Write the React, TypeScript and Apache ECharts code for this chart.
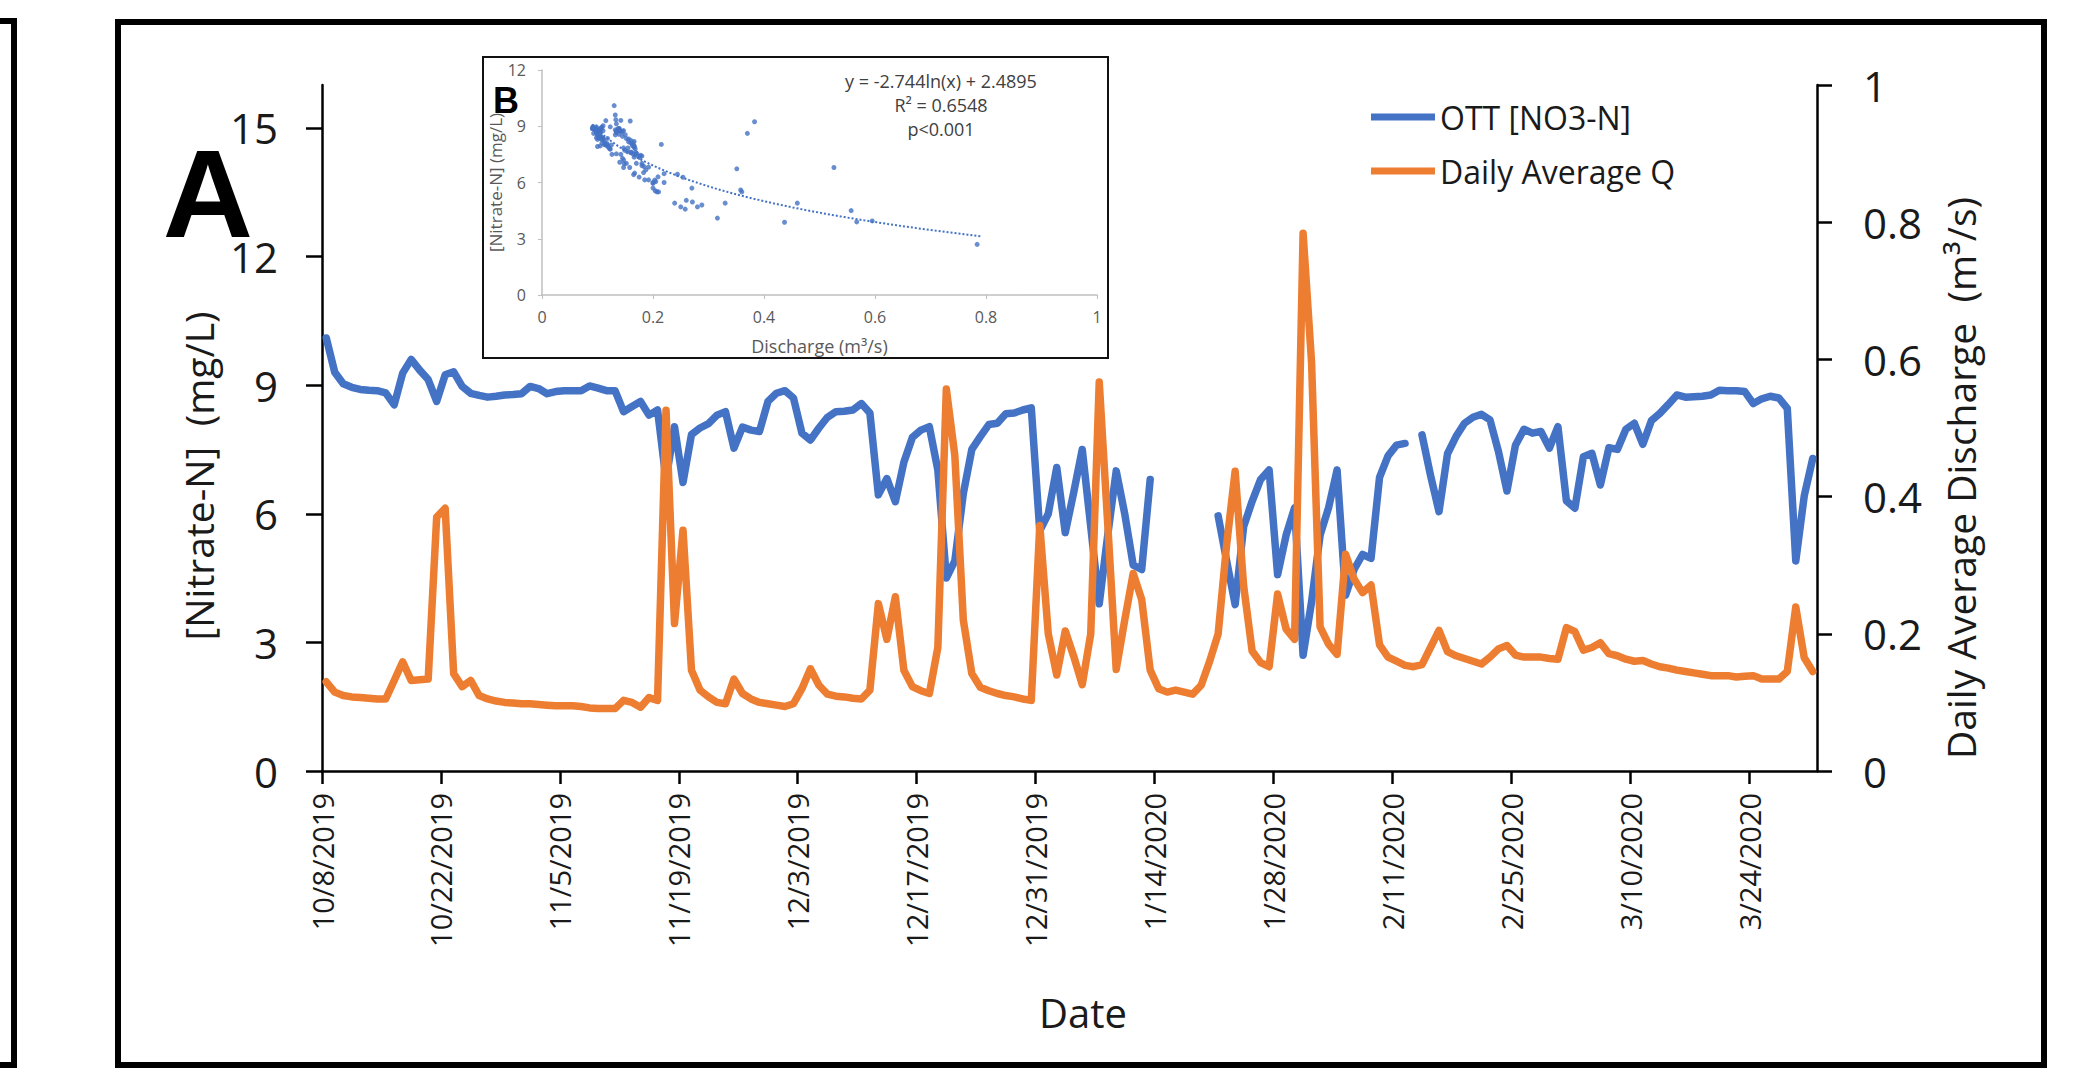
import React, { useEffect, useRef } from "react";
import * as echarts from "echarts";

// Daily values, one per day starting 10/8/2019 (176 days, through 3/31/2020)
const nitrate: (number | null)[] = [
  10.1, 9.3, 9.03, 8.95, 8.9, 8.88, 8.87, 8.82, 8.54, 9.28,
  9.6, 9.35, 9.13, 8.62, 9.24, 9.31, 8.97, 8.81, 8.76, 8.72,
  8.74, 8.77, 8.78, 8.8, 8.97, 8.92, 8.8, 8.85, 8.87, 8.87,
  8.87, 8.98, 8.93, 8.87, 8.87, 8.38, 8.5, 8.62, 8.3, 8.42,
  6.8, 8.03, 6.73, 7.85, 8.0, 8.1, 8.3, 8.38, 7.53, 8.02,
  7.95, 7.92, 8.62, 8.81, 8.87, 8.7, 7.88, 7.72, 8.0, 8.25,
  8.38, 8.39, 8.42, 8.57, 8.35, 6.44, 6.82, 6.28, 7.2, 7.78,
  7.95, 8.03, 7.02, 4.5, 4.9, 6.47, 7.5, 7.8, 8.08, 8.11,
  8.33, 8.35, 8.42, 8.47, 5.6, 6.0, 7.08, 5.56, 6.5, 7.5,
  5.7, 3.9, 5.5, 7.0, 6.0, 4.8, 4.7, 6.8, null, null,
  null, null, null, null, null, 5.95, 4.9, 3.88, 5.7, 6.29,
  6.8, 7.02, 4.58, 5.5, 6.14, 2.7, 3.95, 5.5, 6.14, 7.02,
  4.1, 4.7, 5.05, 4.96, 6.85, 7.35, 7.6, 7.64, null, 7.84,
  6.9, 6.05, 7.4, 7.8, 8.11, 8.25, 8.32, 8.19, 7.45, 6.53,
  7.6, 7.97, 7.88, 7.92, 7.53, 8.03, 6.3, 6.13, 7.33, 7.41,
  6.67, 7.54, 7.5, 7.97, 8.11, 7.62, 8.17, 8.34, 8.55, 8.77,
  8.72, 8.73, 8.74, 8.77, 8.88, 8.87, 8.87, 8.85, 8.57, 8.68,
  8.74, 8.7, 8.46, 4.9, 6.42, 7.29,
];

const discharge: number[] = [
  0.13, 0.115, 0.11, 0.108, 0.107, 0.106, 0.105, 0.105, 0.132, 0.159,
  0.132, 0.133, 0.134, 0.37, 0.383, 0.142, 0.123, 0.132, 0.11, 0.105,
  0.102, 0.1, 0.099, 0.098, 0.098, 0.097, 0.096, 0.095, 0.095, 0.095,
  0.094, 0.092, 0.091, 0.091, 0.091, 0.103, 0.1, 0.093, 0.107, 0.103,
  0.526, 0.215, 0.351, 0.147, 0.118, 0.108, 0.1, 0.098, 0.134, 0.113,
  0.105, 0.1, 0.098, 0.096, 0.094, 0.098, 0.12, 0.149, 0.125, 0.112,
  0.109, 0.108, 0.106, 0.105, 0.118, 0.244, 0.192, 0.254, 0.147, 0.123,
  0.117, 0.113, 0.18, 0.557, 0.46, 0.22, 0.142, 0.122, 0.117, 0.113,
  0.11, 0.108, 0.105, 0.103, 0.358, 0.2, 0.14, 0.204, 0.167, 0.126,
  0.2, 0.567, 0.36, 0.148, 0.22, 0.288, 0.25, 0.147, 0.12, 0.115,
  0.118, 0.115, 0.112, 0.125, 0.16, 0.2, 0.33, 0.437, 0.27, 0.175,
  0.158, 0.152, 0.258, 0.207, 0.192, 0.784, 0.595, 0.21, 0.185, 0.17,
  0.316, 0.28, 0.26, 0.271, 0.184, 0.166, 0.16, 0.154, 0.152, 0.155,
  0.18, 0.205, 0.174, 0.168, 0.164, 0.16, 0.156, 0.166, 0.178, 0.183,
  0.169, 0.166, 0.166, 0.166, 0.164, 0.163, 0.209, 0.203, 0.176, 0.18,
  0.187, 0.171, 0.168, 0.163, 0.16, 0.161, 0.156, 0.152, 0.15, 0.147,
  0.145, 0.143, 0.141, 0.139, 0.139, 0.139, 0.137, 0.138, 0.139, 0.134,
  0.134, 0.134, 0.145, 0.239, 0.165, 0.145,
];

const startDate = [2019, 9, 8]; // 10/8/2019 (month index 9)
const dateTickDays = [0, 14, 28, 42, 56, 70, 84, 98, 112, 126, 140, 154, 168];
const nitrateTicks = [0, 3, 6, 9, 12, 15];

// Log trendline reported in the inset: y = a ln(x) + b
const fitA = -2.744;
const fitB = 2.4895;
const fitXRange = [0.09, 0.79];
const fitText = ["y = -2.744ln(x) + 2.4895", "R\u00b2 = 0.6548", "p<0.001"];

const FONT = "'Open Sans', 'Liberation Sans', sans-serif";
const BLUE = "#4472C4";
const ORANGE = "#ED7D31";

function dateLabel(d: number): string {
  const t = new Date(startDate[0], startDate[1], startDate[2] + d);
  return `${t.getMonth() + 1}/${t.getDate()}/${t.getFullYear()}`;
}

export default function App() {
  const ref = useRef<HTMLDivElement>(null);

  useEffect(() => {
    if (!ref.current) return;
    const chart = echarts.init(ref.current, null, { renderer: "svg" });

    const nLine = nitrate.map((v, i) => [i + 0.5, v == null ? "-" : v]);
    const qLine = discharge.map((v, i) => [i + 0.5, v]);
    const scatter: number[][] = [];
    nitrate.forEach((v, i) => {
      if (v != null) scatter.push([discharge[i], v]);
    });
    const fit: number[][] = [];
    const steps = 60;
    for (let k = 0; k <= steps; k++) {
      const x = fitXRange[0] + ((fitXRange[1] - fitXRange[0]) * k) / steps;
      fit.push([x, fitA * Math.log(x) + fitB]);
    }

    const option: any = {
      animation: false,
      backgroundColor: "#ffffff",
      textStyle: { fontFamily: FONT },
      grid: [
        { left: 322, top: 85, width: 1495, height: 686 },
        { left: 542, top: 70, width: 555, height: 225 },
      ],
      legend: {
        data: ["OTT [NO3-N]", "Daily Average Q"],
        orient: "vertical",
        left: 1366,
        top: 96,
        icon: "rect",
        itemWidth: 64,
        itemHeight: 7,
        itemGap: 22,
        textStyle: { fontSize: 32, color: "#1a1a1a", fontFamily: FONT },
      },
      xAxis: [
        {
          gridIndex: 0,
          type: "value",
          min: 0,
          max: 176,
          interval: 14,
          axisLine: { show: true, onZero: false, lineStyle: { color: "#000", width: 2.5 } },
          axisTick: { show: true, length: 13, customValues: dateTickDays, lineStyle: { color: "#000", width: 2.5 } },
          axisLabel: {
            rotate: 90,
            margin: 22,
            fontSize: 29,
            color: "#1a1a1a",
            customValues: dateTickDays,
            formatter: (v: number) => dateLabel(v),
          },
          splitLine: { show: false },
        },
        {
          gridIndex: 1,
          type: "value",
          min: 0,
          max: 1,
          interval: 0.2,
          name: "Discharge (m\u00b3/s)",
          nameLocation: "middle",
          nameGap: 42,
          nameTextStyle: { fontSize: 18, color: "#595959" },
          axisLine: { show: true, onZero: false, lineStyle: { color: "#bfbfbf", width: 1.5 } },
          axisTick: { show: true, length: 4, lineStyle: { color: "#bfbfbf" } },
          axisLabel: { fontSize: 16, color: "#595959", margin: 14 },
          splitLine: { show: false },
        },
      ],
      yAxis: [
        {
          gridIndex: 0,
          type: "value",
          min: 0,
          max: 16,
          axisLine: { show: true, onZero: false, lineStyle: { color: "#000", width: 2.5 } },
          axisTick: { show: true, length: 16, customValues: nitrateTicks, lineStyle: { color: "#000", width: 2.5 } },
          axisLabel: { fontSize: 42, color: "#1a1a1a", margin: 44, customValues: nitrateTicks, lineHeight: 36 },
          splitLine: { show: false },
        },
        {
          gridIndex: 0,
          type: "value",
          position: "right",
          min: 0,
          max: 1,
          interval: 0.2,
          axisLine: { show: true, onZero: false, lineStyle: { color: "#000", width: 2.5 } },
          axisTick: { show: true, length: 15, lineStyle: { color: "#000", width: 2.5 } },
          axisLabel: { fontSize: 42, color: "#1a1a1a", margin: 46 },
          splitLine: { show: false },
        },
        {
          gridIndex: 1,
          type: "value",
          min: 0,
          max: 12,
          interval: 3,
          name: "[Nitrate-N] (mg/L)",
          nameLocation: "middle",
          nameRotate: 90,
          nameGap: 30,
          nameTextStyle: { fontSize: 17, color: "#595959" },
          axisLine: { show: true, onZero: false, lineStyle: { color: "#bfbfbf", width: 1.5 } },
          axisTick: { show: true, length: 4, lineStyle: { color: "#bfbfbf" } },
          axisLabel: { fontSize: 16, color: "#595959", margin: 16 },
          splitLine: { show: false },
        },
      ],
      series: [
        {
          name: "OTT [NO3-N]",
          type: "line",
          xAxisIndex: 0,
          yAxisIndex: 0,
          data: nLine,
          symbol: "none",
          connectNulls: false,
          itemStyle: { color: BLUE },
          lineStyle: { color: BLUE, width: 7.5, join: "round", cap: "round" },
          z: 3,
        },
        {
          name: "Daily Average Q",
          type: "line",
          xAxisIndex: 0,
          yAxisIndex: 1,
          data: qLine,
          symbol: "none",
          itemStyle: { color: ORANGE },
          lineStyle: { color: ORANGE, width: 7.5, join: "round", cap: "round" },
          z: 4,
        },
        {
          name: "scatter",
          type: "scatter",
          xAxisIndex: 1,
          yAxisIndex: 2,
          data: scatter,
          symbolSize: 5,
          itemStyle: { color: BLUE },
          z: 5,
        },
        {
          name: "fit",
          type: "line",
          xAxisIndex: 1,
          yAxisIndex: 2,
          data: fit,
          symbol: "none",
          lineStyle: { color: BLUE, width: 2, type: "dotted" },
          z: 5,
        },
      ],
      graphic: [
        {
          type: "polyline",
          shape: { points: [[0, 21], [14, 21], [14, 1065], [0, 1065]] },
          style: { fill: "none", stroke: "#000", lineWidth: 6 },
        },
        {
          type: "rect",
          shape: { x: 118, y: 22, width: 1926, height: 1043 },
          style: { fill: "none", stroke: "#000", lineWidth: 6 },
        },
        {
          type: "rect",
          shape: { x: 483, y: 57, width: 625, height: 301 },
          style: { fill: "none", stroke: "#111", lineWidth: 2 },
        },
        {
          type: "text",
          x: 208,
          y: 193,
          style: { text: "A", fontSize: 125, lineHeight: 82, fontWeight: "bold", fontFamily: "'Liberation Sans', sans-serif", fill: "#000", align: "center", verticalAlign: "middle" },
        },
        {
          type: "text",
          x: 506,
          y: 100,
          style: { text: "B", fontSize: 36, lineHeight: 28, fontWeight: "bold", fontFamily: "'Liberation Sans', sans-serif", fill: "#000", align: "center", verticalAlign: "middle" },
        },
        ...fitText.map((t, k) => ({
          type: "text",
          x: 941,
          y: 81 + k * 24,
          style: { text: t, fontSize: 18, fontFamily: FONT, fill: "#404040", align: "center", verticalAlign: "middle" },
        })),
        {
          type: "text",
          x: 198,
          y: 476,
          rotation: Math.PI / 2,
          style: { text: "[Nitrate-N]  (mg/L)", fontSize: 39, fontFamily: FONT, fill: "#1a1a1a", align: "center", verticalAlign: "middle" },
        },
        {
          type: "text",
          x: 1960,
          y: 478,
          rotation: Math.PI / 2,
          style: { text: "Daily Average Discharge  (m\u00b3/s)", fontSize: 39, fontFamily: FONT, fill: "#1a1a1a", align: "center", verticalAlign: "middle" },
        },
        {
          type: "text",
          x: 1083,
          y: 1012,
          style: { text: "Date", fontSize: 40, fontFamily: FONT, fill: "#1a1a1a", align: "center", verticalAlign: "middle" },
        },
      ],
    };

    chart.setOption(option);
    return () => chart.dispose();
  }, []);

  return (
    <div
      ref={ref}
      style={{ position: "absolute", left: 0, top: 0, width: 2097, height: 1089 }}
    />
  );
}
